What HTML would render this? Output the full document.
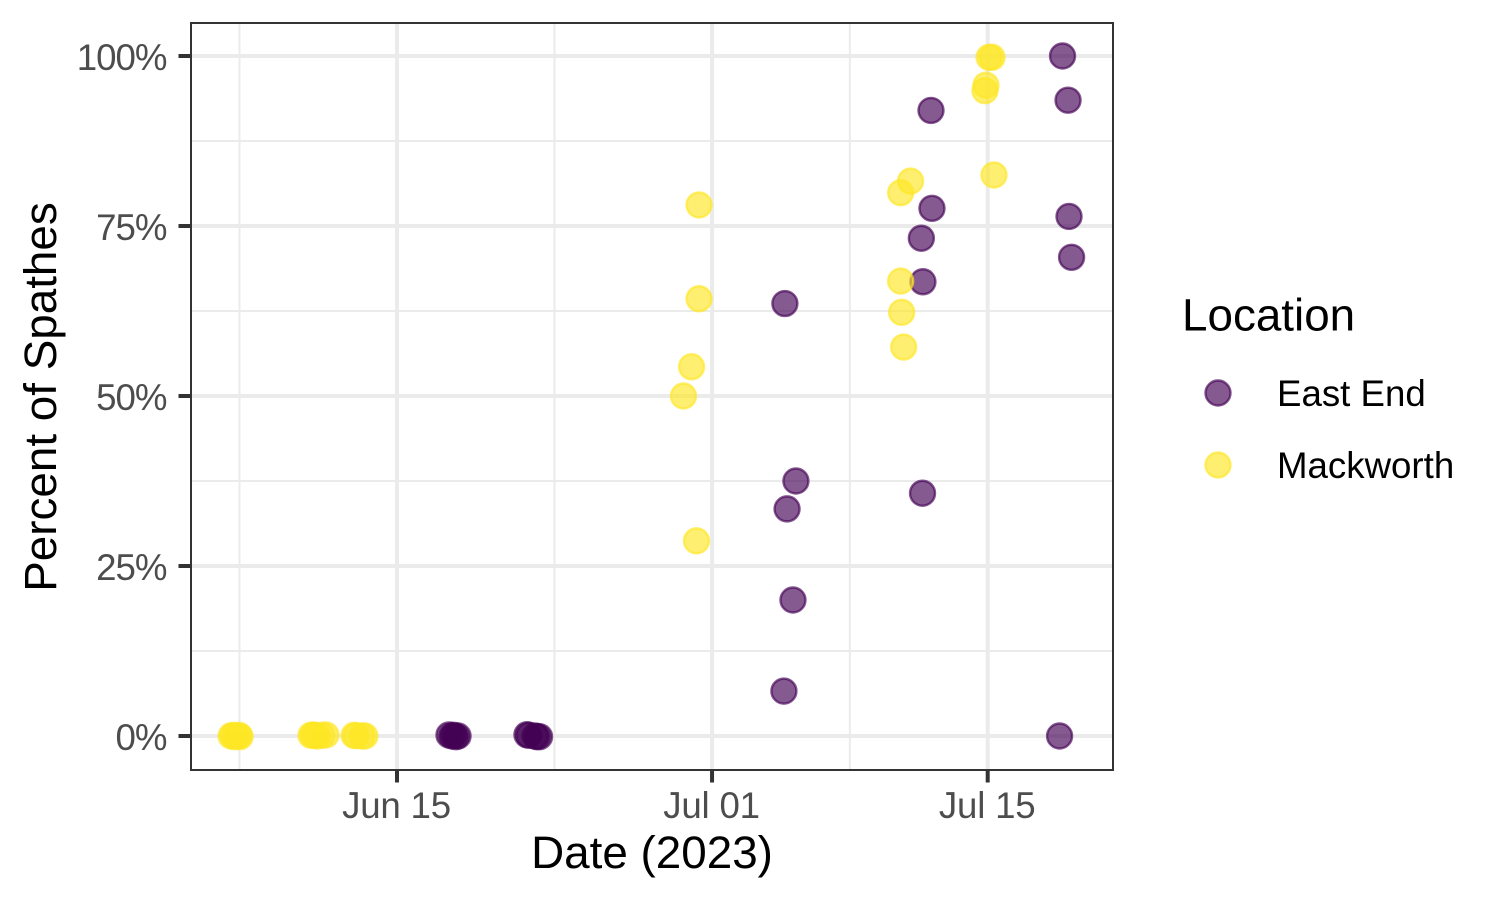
<!DOCTYPE html>
<html lang="en">
<head>
<meta charset="utf-8">
<title>Percent of Spathes by Date</title>
<style>
html, body { margin: 0; padding: 0; background: #fff; }
svg { display: block; font-family: "Liberation Sans", Arial, sans-serif; }
</style>
</head>
<body>
<svg id="chart" width="1500" height="900" viewBox="0 0 1500 900" xmlns="http://www.w3.org/2000/svg">
  <rect x="191" y="23" width="922" height="747" fill="#ffffff"/>
  <g id="grid"></g>
  <g id="points-east-end"></g>
  <g id="points-mackworth"></g>
  <rect x="191" y="23" width="922" height="747" fill="none" stroke="#333333" stroke-width="2"/>
  <g id="x-axis"></g>
  <g id="y-axis"></g>
  <text x="652" y="868" text-anchor="middle" font-size="45.8" fill="#000000">Date (2023)</text>
  <text transform="translate(56,397) rotate(-90)" text-anchor="middle" font-size="45.8" fill="#000000">Percent of Spathes</text>
  <g>
    <text x="1182" y="330.5" font-size="45.8" fill="#000000">Location</text>
    <circle cx="1218" cy="393" r="12.5" fill="#440154" fill-opacity="0.65" stroke="#440154" stroke-opacity="0.65" stroke-width="2.4"/>
    <text x="1277" y="406" font-size="36.67" fill="#000000">East End</text>
    <circle cx="1218" cy="465" r="12.5" fill="#FDE725" fill-opacity="0.65" stroke="#FDE725" stroke-opacity="0.65" stroke-width="2.4"/>
    <text x="1277" y="478" font-size="36.67" fill="#000000">Mackworth</text>
  </g>
</svg>
<script>
// Days are counted from Jun 1, 2023 (Jun 1 = 0).
const xTickDays = [14, 30, 44];
const xTickLabels = ["Jun 15", "Jul 01", "Jul 15"];
const xMinorDays = [6, 22, 37];
const yTickValues = [0, 25, 50, 75, 100];
const yTickLabels = ["0%", "25%", "50%", "75%", "100%"];
const yMinorValues = [12.5, 37.5, 62.5, 87.5];

const eastEndDays = [16.64, 16.79, 16.89, 16.99, 17.10, 20.60, 20.70, 21.01, 21.11, 21.24,
  33.65, 33.70, 33.81, 34.11, 34.26, 40.63, 40.69, 40.71, 41.12, 41.17,
  47.65, 47.80, 48.08, 48.13, 48.26];
const eastEndPercent = [0.15, 0, 0.1, -0.1, 0, 0.2, 0.1, 0, -0.1, -0.1,
  6.6, 63.6, 33.4, 20.0, 37.5, 73.2, 35.7, 66.8, 92.0, 77.6,
  0, 100, 93.5, 76.4, 70.4];

const mackworthDays = [5.57, 5.67, 5.77, 5.87, 5.98, 6.03, 9.63, 9.73, 9.84, 9.94, 10.19, 10.39,
  11.82, 11.92, 12.22, 12.37, 28.55, 28.96, 29.21, 29.34, 29.34,
  39.58, 39.58, 39.63, 39.73, 40.08, 43.86, 43.91, 44.07, 44.22, 44.32];
const mackworthPercent = [0, 0.1, -0.1, 0, 0.1, -0.1, 0.1, 0.15, 0.1, 0, 0.1, 0.15,
  0.1, 0.05, 0, 0, 50, 54.3, 28.7, 78.1, 64.3,
  79.9, 66.9, 62.3, 57.2, 81.6, 94.9, 95.7, 99.8, 99.8, 82.5];

const X0_PX = 397, PX_PER_DAY = 19.69;
const Y0_PX = 736, PX_PER_PCT = 6.8;
function xScale(day) { return X0_PX + (day - 14) * PX_PER_DAY; }
function yScale(pct) { return Y0_PX - pct * PX_PER_PCT; }

const NS = "http://www.w3.org/2000/svg";
function make(tag, attrs) {
  const el = document.createElementNS(NS, tag);
  for (const k in attrs) el.setAttribute(k, attrs[k]);
  return el;
}

const gridG = document.getElementById("grid");
xMinorDays.forEach(function (d) {
  const l = make("line", { x1: xScale(d), x2: xScale(d), y1: 23, y2: 770, stroke: "#EBEBEB", "stroke-width": 2 });
  
  
  gridG.appendChild(l);
});
yMinorValues.forEach(function (v) {
  const l = make("line", { x1: 191, x2: 1113, y1: yScale(v), y2: yScale(v), stroke: "#EBEBEB", "stroke-width": 2 });
  
  
  gridG.appendChild(l);
});
xTickDays.forEach(function (d) {
  const l = make("line", { x1: xScale(d), x2: xScale(d), y1: 23, y2: 770, stroke: "#EBEBEB", "stroke-width": 4 });
  
  
  gridG.appendChild(l);
});
yTickValues.forEach(function (v) {
  const l = make("line", { x1: 191, x2: 1113, y1: yScale(v), y2: yScale(v), stroke: "#EBEBEB", "stroke-width": 4 });
  
  
  gridG.appendChild(l);
});

const xAxisG = document.getElementById("x-axis");
xTickDays.forEach(function (d, i) {
  const t = make("line", { x1: xScale(d), x2: xScale(d), y1: 770, y2: 782.5, stroke: "#333333", "stroke-width": 4 });
  
  
  xAxisG.appendChild(t);
  const lab = make("text", { x: xScale(d) - 0.5, y: 818, "text-anchor": "middle", "font-size": 36.67, "letter-spacing": -0.2, fill: "#4D4D4D" });
  
  
  lab.textContent = xTickLabels[i];
  xAxisG.appendChild(lab);
});

const yAxisG = document.getElementById("y-axis");
yTickValues.forEach(function (v, i) {
  const t = make("line", { x1: 178.5, x2: 191, y1: yScale(v), y2: yScale(v), stroke: "#333333", "stroke-width": 4 });
  
  
  yAxisG.appendChild(t);
  const lab = make("text", { x: 166.5, y: yScale(v) + 13.8, "text-anchor": "end", "font-size": 36.67, "letter-spacing": -1, fill: "#4D4D4D" });
  
  
  lab.textContent = yTickLabels[i];
  yAxisG.appendChild(lab);
});

function pointAttrs(day, pct, color) {
  return {
    cx: xScale(day), cy: yScale(pct), r: 12.5,
    fill: color, "fill-opacity": 0.65,
    stroke: color, "stroke-opacity": 0.65, "stroke-width": 2.4
  };
}
const eastG = document.getElementById("points-east-end");
eastEndDays.forEach(function (d, i) {
  const c = make("circle", pointAttrs(d, eastEndPercent[i], "#440154"));
  
  
  eastG.appendChild(c);
});
const mackG = document.getElementById("points-mackworth");
mackworthDays.forEach(function (d, i) {
  const c = make("circle", pointAttrs(d, mackworthPercent[i], "#FDE725"));
  
  
  mackG.appendChild(c);
});
</script>
</body>
</html>
